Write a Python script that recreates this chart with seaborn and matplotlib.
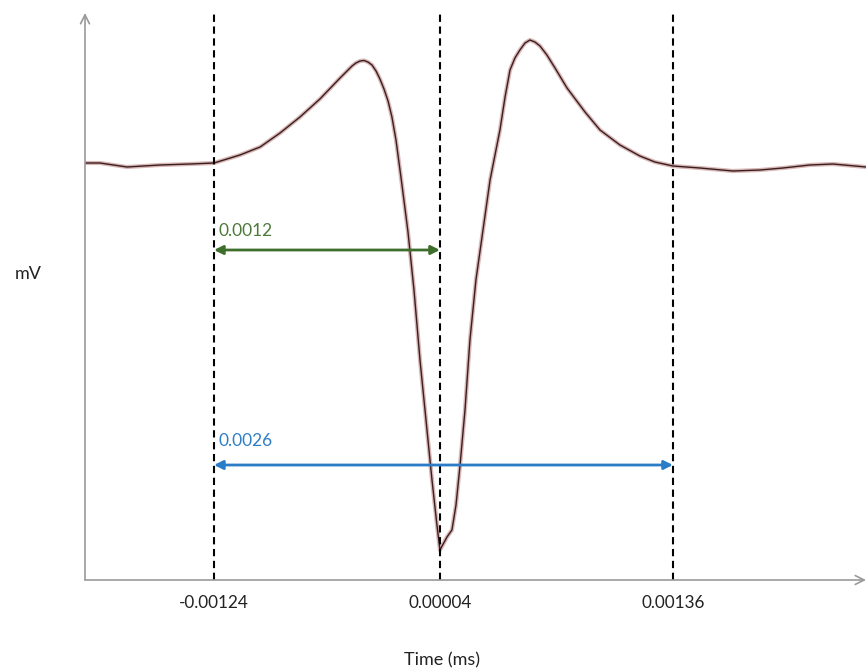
import numpy as np
import pandas as pd
import matplotlib
matplotlib.use("Agg")
import matplotlib.pyplot as plt
import seaborn as sns

# spike waveform (time, mV in arbitrary units)
TIME = [-0.00197, -0.001886, -0.001733, -0.001546, -0.001376, -0.00124,
        -0.001093, -0.000979, -0.000866, -0.000753, -0.00064, -0.000526,
        -0.000492, -0.000458, -0.000436, -0.000413, -0.00039, -0.000368,
        -0.000345, -0.000322, -0.0003, -0.000277, -0.000254, -0.000232,
        -0.000209, -0.000175, -0.000141, -0.000107, -0.000073, -0.000039,
        -0.000005, 0.000023, 0.00004, 0.00008, 0.000108, 0.000131,
        0.000154, 0.000182, 0.00021, 0.000244, 0.000284, 0.000324,
        0.00038, 0.000409, 0.000437, 0.000465, 0.000493, 0.000522,
        0.00055, 0.000578, 0.000607, 0.000646, 0.000692, 0.00076,
        0.000862, 0.000947, 0.00106, 0.001173, 0.001258, 0.00136,
        0.001513, 0.0017, 0.001853, 0.001983, 0.002136, 0.002267,
        0.002454]
VOLT = [0.02, 0.02, -0.02, 0.0, 0.01, 0.02,
        0.10, 0.18, 0.32, 0.48, 0.66, 0.87,
        0.93, 0.99, 1.02, 1.04, 1.045, 1.03,
        1.00, 0.94, 0.86, 0.76, 0.64, 0.48,
        0.25, -0.20, -0.67, -1.25, -1.95, -2.55,
        -3.15, -3.60, -3.85, -3.72, -3.65, -3.40,
        -3.00, -2.45, -1.75, -1.15, -0.65, -0.15,
        0.35, 0.68, 0.95, 1.07, 1.15, 1.22,
        1.25, 1.23, 1.19, 1.10, 0.97, 0.77,
        0.53, 0.35, 0.20, 0.09, 0.03, -0.01,
        -0.03, -0.06, -0.05, -0.03, 0.00, 0.01,
        -0.02]

MARKS = [-0.00124, 0.00004, 0.00136]
MARK_LABELS = ["-0.00124", "0.00004", "0.00136"]

SPANS = [("0.0012", -0.00124, 0.00004, -0.85), ("0.0026", -0.00124, 0.00136, -3.0)]
SPAN_COLORS = ["#3e6e2b", "#2a7cc7"]
SPAN_TEXT_COLORS = ["#4d7a3a", "#2f7fc6"]
SPAN_TEXT_RISE = [14, 17.5]  # points above the arrow

sns.set_theme(style="white")
plt.rcParams["font.family"] = ["Lato", "DejaVu Sans"]

df = pd.DataFrame({"t": TIME, "v": VOLT})

fig = plt.figure(figsize=(8.68, 6.69), dpi=100)
ax = fig.add_axes([85 / 868, 89 / 669, 781 / 868, 567 / 669])

sns.lineplot(data=df, x="t", y="v", ax=ax, color="#cfa5a5", lw=3.0, alpha=0.8)
sns.lineplot(data=df, x="t", y="v", ax=ax, color="#3a1d1d", lw=1.0)

for x in MARKS:
    ax.axvline(x, color="black", ls=(0, (3.5, 2.2)), lw=1.5, zorder=3)

for (txt, x0, x1, y), c, tc, rise in zip(SPANS, SPAN_COLORS, SPAN_TEXT_COLORS, SPAN_TEXT_RISE):
    ax.annotate("", xy=(x1, y), xytext=(x0, y),
                arrowprops=dict(arrowstyle="<|-|>", color=c, lw=2,
                                mutation_scale=13, shrinkA=0, shrinkB=0),
                zorder=4)
    ax.annotate(txt, xy=(x0, y), xytext=(3, rise), textcoords="offset points",
                color=tc, fontsize=12.5, ha="left", va="center")

ax.set_xlim(-0.001971, 0.002454)
ax.set_ylim(-4.15, 1.52)
ax.set_xticks(MARKS)
ax.set_xticklabels(MARK_LABELS)
ax.set_yticks([])
ax.tick_params(axis="x", length=0, pad=11, labelsize=12.3, colors="#222222")
ax.set_xlabel("")
ax.set_ylabel("")
for s in ax.spines.values():
    s.set_visible(False)

# axis arrows
axis_arrow = dict(arrowstyle="->", color="#999999", lw=1.2, mutation_scale=16,
                  shrinkA=0, shrinkB=0)
ax.annotate("", xy=(0, 1), xytext=(0, 0), xycoords="axes fraction",
            arrowprops=axis_arrow, annotation_clip=False)
ax.annotate("", xy=(1, 0), xytext=(0, 0), xycoords="axes fraction",
            arrowprops=axis_arrow, annotation_clip=False)

fig.text(28 / 868, 1 - 274 / 669, "mV", ha="center", va="center", fontsize=13, color="#222222")
fig.text(442 / 868, 1 - 660 / 669, "Time (ms)", ha="center", va="center", fontsize=13, color="#222222")

fig.savefig("out.png", dpi=100)
